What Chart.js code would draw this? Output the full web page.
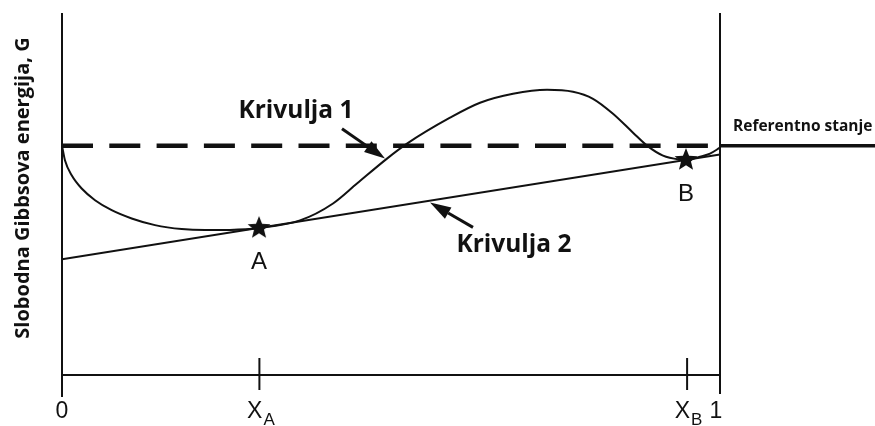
<!DOCTYPE html>
<html>
<head>
<meta charset="utf-8">
<script src="https://cdn.jsdelivr.net/npm/chart.js@4.4.1/dist/chart.umd.min.js"></script>
<style>
  html, body { margin: 0; padding: 0; background: #ffffff; }
  #wrap { width: 875px; height: 426px; position: relative; }
</style>
</head>
<body>
<div id="wrap"><canvas id="c"></canvas></div>
<script>
// ---- Data (composition x from 0 to 1, Gibbs energy G relative to reference state) ----
const tickValues = [0, 0.30, 0.95, 1];
const tickMain = ['0', 'X', 'X', '1'];
const tickSub = ['', 'A', 'B', ''];

const referenceG = 0;

const curve1X = [0, 0.0046, 0.0147, 0.0299, 0.0502, 0.0755, 0.1059, 0.1413, 0.1819, 0.2173, 0.2553, 0.2994, 0.3617, 0.4119, 0.4483, 0.4939, 0.5243, 0.5897, 0.6353, 0.6854, 0.7371, 0.7766, 0.807, 0.8374, 0.8678, 0.8891, 0.9134, 0.9392, 0.9498, 0.9696, 0.9848, 1];
const curve1G = [0, -0.15, -0.297, -0.43, -0.547, -0.647, -0.73, -0.797, -0.837, -0.847, -0.845, -0.826, -0.75, -0.58, -0.38, -0.13, 0.02, 0.28, 0.43, 0.52, 0.56, 0.54, 0.47, 0.32, 0.13, 0.0, -0.10, -0.14, -0.144, -0.11, -0.08, -0.02];

const curve2X = [0, 1];
const curve2G = [-1.14, -0.09];

const pointX = [0.2994, 0.9483];
const pointG = [-0.826, -0.144];
const pointLabels = ['A', 'B'];
const pointLabelG = [-1.17, -0.49];

const curveLabels = ['Krivulja 1', 'Krivulja 2'];
const curveLabelX = [0.3556, 0.6869];
const curveLabelG = [0.35, -1.0];
const arrowTailX = [0.4255, 0.6246];
const arrowTailG = [0.17, -0.82];
const arrowHeadX = [0.4909, 0.5593];
const arrowHeadG = [-0.13, -0.57];

const referenceLabel = 'Referentno stanje';
const referenceLabelX = 1.0198;
const referenceLabelG = 0.19;

const yTitle = 'Slobodna Gibbsova energija, G';

// ---- helpers ----
function toPts(xs, ys) { return xs.map((x, i) => ({ x: x, y: ys[i] })); }

function makeStar(rOuter, rInner) {
  const s = Math.ceil(rOuter * 2 + 2);
  const cv = document.createElement('canvas');
  cv.width = s; cv.height = s;
  const g = cv.getContext('2d');
  g.translate(s / 2, s / 2);
  g.beginPath();
  for (let i = 0; i < 10; i++) {
    const r = i % 2 === 0 ? rOuter : rInner;
    const a = -Math.PI / 2 + i * Math.PI / 5;
    const px = r * Math.cos(a), py = r * Math.sin(a);
    if (i === 0) g.moveTo(px, py); else g.lineTo(px, py);
  }
  g.closePath();
  g.fillStyle = '#111';
  g.fill();
  return cv;
}
const starImg = makeStar(12, 5.2);

const MAIN_FONT = '23px "Liberation Sans", Arial, sans-serif';
const SUB_FONT = '17px "Liberation Sans", Arial, sans-serif';

const decor = {
  id: 'decor',
  beforeDraw(chart) {
    const ctx = chart.ctx;
    ctx.save();
    ctx.fillStyle = '#ffffff';
    ctx.fillRect(0, 0, chart.width, chart.height);
    ctx.restore();
  },
  afterDraw(chart) {
    const ctx = chart.ctx;
    const xs = chart.scales.x, ys = chart.scales.y;
    const ca = chart.chartArea;
    const X = v => xs.getPixelForValue(v);
    const Y = v => ys.getPixelForValue(v);
    ctx.save();
    ctx.strokeStyle = '#111';
    ctx.fillStyle = '#111';
    ctx.lineCap = 'butt';

    // vertical frame lines at x = 0 and x = 1
    ctx.lineWidth = 2;
    ctx.beginPath();
    ctx.moveTo(X(0), ca.top); ctx.lineTo(X(0), ca.bottom + 22);
    ctx.moveTo(X(1), ca.top); ctx.lineTo(X(1), ca.bottom + 19);
    ctx.stroke();

    // composition axis
    ctx.beginPath();
    ctx.moveTo(X(0), ca.bottom); ctx.lineTo(X(1), ca.bottom);
    ctx.stroke();
    // inner ticks
    tickValues.forEach((v) => {
      if (v > 0 && v < 1) {
        ctx.beginPath();
        ctx.moveTo(X(v), ca.bottom - 17); ctx.lineTo(X(v), ca.bottom + 15);
        ctx.stroke();
      }
    });

    // tick labels with subscripts
    ctx.textBaseline = 'alphabetic';
    ctx.textAlign = 'left';
    tickValues.forEach((v, i) => {
      const main = tickMain[i], sub = tickSub[i];
      ctx.font = MAIN_FONT;
      const wm = ctx.measureText(main).width;
      ctx.font = SUB_FONT;
      const wsub = sub ? ctx.measureText(sub).width : 0;
      let cx = X(v);
      if (v === 1) cx -= 4;
      const left = cx - (wm + wsub) / 2 + (sub ? 1 : 0);
      ctx.font = MAIN_FONT;
      ctx.fillText(main, left, ca.bottom + 43);
      if (sub) {
        ctx.font = SUB_FONT;
        ctx.fillText(sub, left + wm + 1, ca.bottom + 50);
      }
    });

    // reference line extension beyond x = 1
    ctx.lineWidth = 3.5;
    ctx.beginPath();
    ctx.moveTo(X(1), Y(referenceG)); ctx.lineTo(chart.width, Y(referenceG));
    ctx.stroke();

    // arrows
    for (let i = 0; i < arrowTailX.length; i++) {
      const x1 = X(arrowTailX[i]), y1 = Y(arrowTailG[i]);
      const x2 = X(arrowHeadX[i]), y2 = Y(arrowHeadG[i]);
      const ang = Math.atan2(y2 - y1, x2 - x1);
      const hl = 21, hw = 6.5;
      const bx = x2 - hl * Math.cos(ang), by = y2 - hl * Math.sin(ang);
      ctx.lineWidth = 3;
      ctx.beginPath();
      ctx.moveTo(x1, y1); ctx.lineTo(bx, by);
      ctx.stroke();
      ctx.beginPath();
      ctx.moveTo(x2, y2);
      ctx.lineTo(bx + hw * Math.sin(ang), by - hw * Math.cos(ang));
      ctx.lineTo(bx - hw * Math.sin(ang), by + hw * Math.cos(ang));
      ctx.closePath();
      ctx.fill();
    }

    // curve labels
    ctx.textAlign = 'center';
    ctx.textBaseline = 'middle';
    ctx.font = 'bold 24.5px "Open Sans", sans-serif';
    curveLabels.forEach((t, i) => ctx.fillText(t, X(curveLabelX[i]), Y(curveLabelG[i])));

    // point labels
    ctx.font = '24px "Liberation Sans", Arial, sans-serif';
    pointLabels.forEach((t, i) => ctx.fillText(t, X(pointX[i]), Y(pointLabelG[i])));

    // reference state label
    ctx.textAlign = 'left';
    ctx.font = 'bold 15.5px "Open Sans", sans-serif';
    ctx.fillText(referenceLabel, X(referenceLabelX), Y(referenceLabelG));

    // y-axis title
    ctx.save();
    ctx.translate(23, (ca.top + ca.bottom) / 2 - 6);
    ctx.rotate(-Math.PI / 2);
    ctx.textAlign = 'center';
    ctx.textBaseline = 'middle';
    ctx.font = 'bold 20px "Open Sans", sans-serif';
    ctx.fillText(yTitle, 0, 0);
    ctx.restore();

    ctx.restore();
  }
};

new Chart(document.getElementById('c'), {
  type: 'scatter',
  data: {
    datasets: [
      {
        label: 'Referentno stanje',
        data: toPts([0, 1], [referenceG, referenceG]),
        showLine: true,
        borderColor: '#111',
        borderWidth: 4.5,
        borderDash: [31, 16.3],
        pointRadius: 0,
        order: 3
      },
      {
        label: 'Krivulja 1',
        data: toPts(curve1X, curve1G),
        showLine: true,
        borderColor: '#111',
        borderWidth: 2,
        cubicInterpolationMode: 'monotone',
        pointRadius: 0,
        order: 2
      },
      {
        label: 'Krivulja 2',
        data: toPts(curve2X, curve2G),
        showLine: true,
        borderColor: '#111',
        borderWidth: 2,
        pointRadius: 0,
        order: 2
      },
      {
        label: 'Točke',
        data: toPts(pointX, pointG),
        showLine: false,
        pointStyle: starImg,
        pointRadius: 12,
        order: 1
      }
    ]
  },
  options: {
    responsive: true,
    maintainAspectRatio: false,
    animation: false,
    devicePixelRatio: 1,
    layout: { padding: { left: 62, right: 155, top: 12, bottom: 51 } },
    plugins: { legend: { display: false }, tooltip: { enabled: false } },
    scales: {
      x: { type: 'linear', min: 0, max: 1, display: false },
      y: { type: 'linear', min: -2.30, max: 1.33, display: false }
    }
  },
  plugins: [decor]
});
</script>
</body>
</html>
